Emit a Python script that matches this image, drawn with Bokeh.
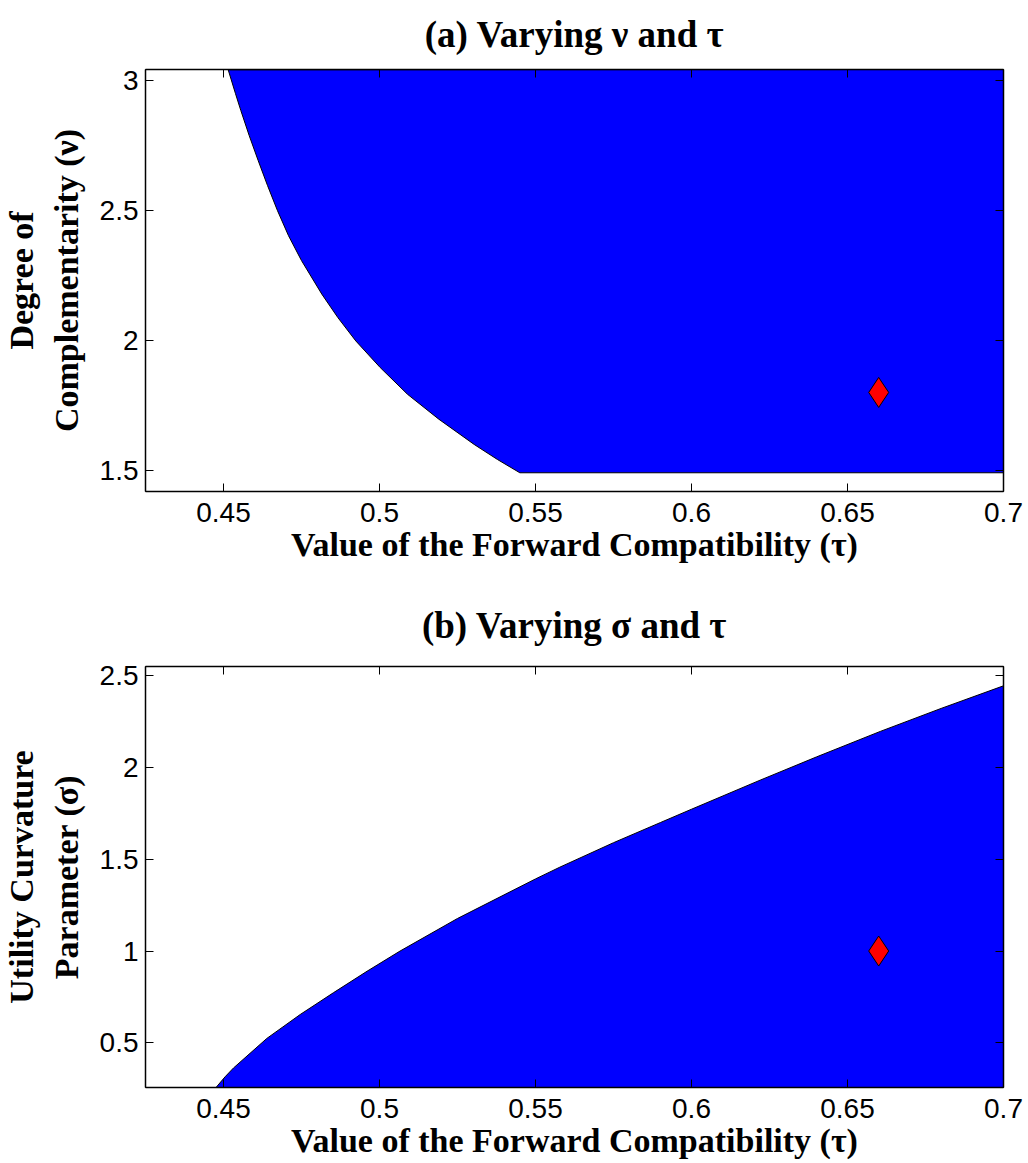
from bokeh.plotting import figure
from bokeh.models import Range1d, LinearAxis, FixedTicker
from bokeh.layouts import column
from bokeh.embed import file_html
from bokeh.resources import INLINE

# ---------------- data ----------------
# (a) boundary of the region in (tau, nu)
tau_a = [0.4515, 0.45385, 0.45556, 0.45823, 0.46111, 0.4641, 0.46731, 0.47083, 0.475,
         0.48152, 0.48665, 0.49241, 0.50021, 0.50897, 0.51902, 0.53034, 0.53782, 0.54498]
nu_a = [3.041, 2.949, 2.884, 2.788, 2.692, 2.596, 2.499, 2.403, 2.307,
        2.178, 2.088, 1.998, 1.896, 1.793, 1.697, 1.600, 1.542, 1.491]
# (b) boundary of the region in (tau, sigma)
tau_b = [0.4476, 0.4505, 0.4532, 0.4639, 0.4746, 0.4853, 0.496, 0.5066, 0.525, 0.55,
         0.5578, 0.575, 0.5901, 0.6, 0.622, 0.64, 0.6605, 0.68, 0.7]
sig_b = [0.258, 0.316, 0.364, 0.525, 0.655, 0.774, 0.890, 1.0, 1.177, 1.392,
         1.456, 1.589, 1.699, 1.771, 1.929, 2.055, 2.194, 2.319, 2.442]
# calibrated points (red diamonds)
point_a = (0.66, 1.8)
point_b = (0.66, 1.0)

x_ticks = [0.45, 0.5, 0.55, 0.6, 0.65, 0.7]
x_tick_labels = ["0.45", "0.5", "0.55", "0.6", "0.65", "0.7"]
y_ticks_a = [1.5, 2.0, 2.5, 3.0]
y_tick_labels_a = ["1.5", "2", "2.5", "3"]
y_ticks_b = [0.5, 1.0, 1.5, 2.0, 2.5]
y_tick_labels_b = ["0.5", "1", "1.5", "2", "2.5"]

x_lim = (0.425, 0.7)
y_lim_a = (1.419, 3.042)
y_lim_b = (0.258, 2.547)

title_a = "(a) Varying ν and τ"
title_b = "(b) Varying σ and τ"
xlabel = "Value of the Forward Compatibility (τ)"
ylabel_a = "Degree of\nComplementarity (ν)"
ylabel_b = "Utility Curvature\nParameter (σ)"

SERIF = "Liberation Serif"
SANS = "Liberation Sans"


def style_axis(ax, ticks, labels, show_labels=True):
    ax.ticker = FixedTicker(ticks=ticks)
    ax.major_tick_in = 8
    ax.major_tick_out = 0
    ax.major_tick_line_color = "black"
    ax.major_tick_line_width = 1
    ax.minor_tick_line_color = None
    ax.axis_line_color = "black"
    ax.axis_line_width = 1.5
    if show_labels:
        ax.major_label_overrides = {t: l for t, l in zip(ticks, labels)}
        ax.major_label_text_font = SANS
        ax.major_label_text_font_size = "28px"
        ax.major_label_text_color = "black"
    else:
        ax.major_label_text_font_size = "1px"
        ax.major_label_text_color = None
        ax.major_label_standoff = 0


def make_panel(height, y_lim, y_ticks, y_tick_labels, title, ylabel,
               border_top, border_bottom, title_standoff):
    p = figure(width=1028, height=height, x_range=Range1d(*x_lim), y_range=Range1d(*y_lim),
               output_backend="svg", toolbar_location=None,
               min_border_left=145, min_border_right=25,
               min_border_top=border_top, min_border_bottom=border_bottom)
    p.grid.visible = False
    p.outline_line_color = "black"
    p.background_fill_color = "white"
    p.border_fill_color = "white"

    style_axis(p.xaxis[0], x_ticks, x_tick_labels)
    style_axis(p.yaxis[0], y_ticks, y_tick_labels)
    p.xaxis[0].major_label_standoff = 11
    p.yaxis[0].major_label_standoff = 7
    p.xaxis[0].axis_label = xlabel
    p.yaxis[0].axis_label = ylabel
    for ax in (p.xaxis[0], p.yaxis[0]):
        ax.axis_label_text_font = SERIF
        ax.axis_label_text_font_style = "bold"
        ax.axis_label_text_font_size = "34px"
        ax.axis_label_text_color = "black"
    p.xaxis[0].axis_label_standoff = 1
    p.yaxis[0].axis_label_standoff = 12

    top_ax = LinearAxis()
    style_axis(top_ax, x_ticks, x_tick_labels, show_labels=False)
    p.add_layout(top_ax, "above")
    right_ax = LinearAxis()
    style_axis(right_ax, y_ticks, y_tick_labels, show_labels=False)
    p.add_layout(right_ax, "right")

    p.title.text = title
    p.title.align = "center"
    p.title.vertical_align = "top"
    p.title.text_font = SERIF
    p.title.text_font_style = "bold"
    p.title.text_font_size = "37px"
    p.title.text_line_height = 0.8
    p.title.text_color = "black"
    p.title.standoff = title_standoff
    return p


# ---- panel (a) ----
p1 = make_panel(582, y_lim_a, y_ticks_a, y_tick_labels_a, title_a, ylabel_a, 69, 91, 26)
xs_a = tau_a + [x_lim[1], x_lim[1]]
ys_a = nu_a + [nu_a[-1], y_lim_a[1]]
p1.patch(xs_a, ys_a, fill_color="#0000FF", line_color="black", line_width=1)
p1.scatter([point_a[0]], [point_a[1]], marker="diamond", size=30,
           fill_color="#FF0000", line_color="black", line_width=1)

# ---- panel (b) ----
p2 = make_panel(581, y_lim_b, y_ticks_b, y_tick_labels_b, title_b, ylabel_b, 84, 76, 37)
xs_b = tau_b + [x_lim[1]]
ys_b = sig_b + [y_lim_b[0]]
p2.patch(xs_b, ys_b, fill_color="#0000FF", line_color="black", line_width=1)
p2.scatter([point_b[0]], [point_b[1]], marker="diamond", size=30,
           fill_color="#FF0000", line_color="black", line_width=1)

layout = column(p1, p2, spacing=0)
open("out.html", "w").write(file_html(layout, INLINE))
